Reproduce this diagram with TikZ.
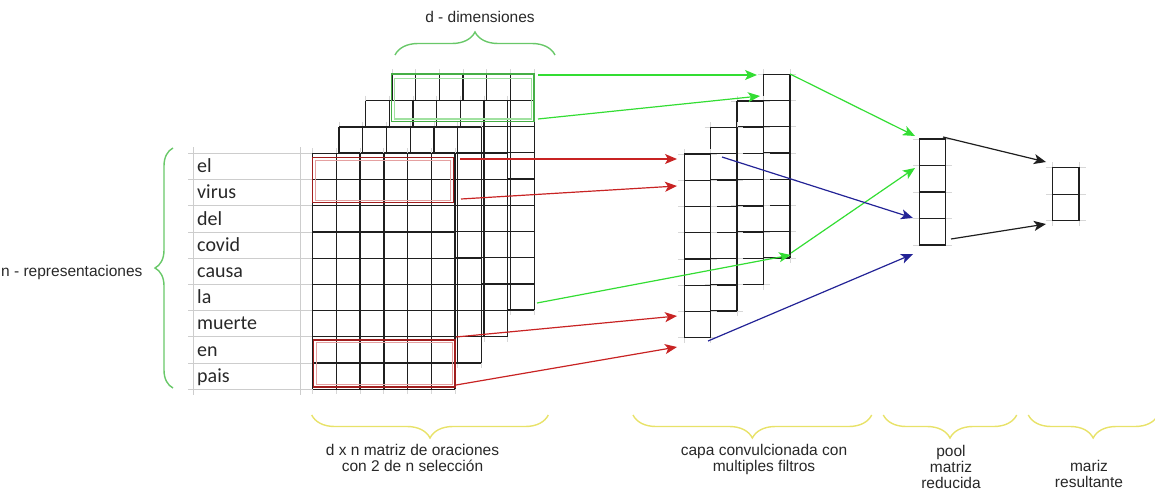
\documentclass[tikz,border=0pt]{standalone}
\usepackage{fontspec}
\setmainfont{Liberation Sans}
\newfontfamily\wordfont{Carlito}
\usetikzlibrary{arrows.meta,decorations.pathreplacing}

\definecolor{txt}{RGB}{40,40,40}
\definecolor{arrgreen}{RGB}{51,221,51}
\definecolor{arrred}{RGB}{200,35,35}
\definecolor{arrblue}{RGB}{35,35,150}
\definecolor{arrblack}{RGB}{30,30,30}
\definecolor{bracegreen}{RGB}{105,200,105}
\definecolor{braceyellow}{RGB}{232,226,105}
\definecolor{boxgreen}{RGB}{70,175,70}
\definecolor{boxgreenlight}{RGB}{160,225,160}
\definecolor{boxred}{RGB}{160,30,30}
\definecolor{boxredlight}{RGB}{228,160,160}
\definecolor{tablegray}{RGB}{205,205,205}
\definecolor{stubgray}{RGB}{215,215,215}

\begin{document}
\begin{tikzpicture}[x=1pt,y=-1pt,
  gridline/.style={line width=1.3pt, black!88},
  stub/.style={line width=0.8pt, stubgray},
  tableline/.style={line width=0.9pt, tablegray},
  word/.style={font=\wordfont\fontsize{20}{24}\selectfont, text=txt, inner sep=0pt},
  label/.style={font=\fontsize{15.5}{16}\selectfont, text=txt, inner sep=0pt, align=center},
  flow/.style={line width=1.2pt, -{Stealth[length=12pt,width=10pt,inset=3pt]}},
  greenflow/.style={flow, arrgreen},
  redflow/.style={flow, arrred},
  blueflow/.style={flow, arrblue},
  blackflow/.style={flow, arrblack},
  gbrace/.style={line width=1.4pt, bracegreen, decorate},
  ybrace/.style={line width=1.4pt, braceyellow, decorate, decoration={brace, amplitude=23pt}}]
\useasboundingbox (0,0) rectangle (1155,495);

% table of words
\foreach \i in {0,...,9}
  \draw[tableline] (188,153.3+\i*26.22) -- (312,153.3+\i*26.22);
\draw[tableline] (193.3,147) -- (193.3,395);
\draw[tableline] (300,147) -- (300,395);
\foreach \w [count=\i from 0] in {el,virus,del,covid,causa,la,muerte,en,pais}
  \node[word, anchor=base west] (w\i) at (197,153.3+\i*26.22+19.3) {\w};

% stacked d x n layers, drawn from back to front
\foreach \k in {3,2,1,0} {
  \pgfmathsetmacro{\L}{312.7+26.4*\k}
  \pgfmathsetmacro{\T}{153.3-26.4*\k}
  \fill[white] (\L,\T) rectangle ++(142.3,236);
  \foreach \j in {0,...,6}
    \draw[stub] (\L+\j*23.72,\T-5) -- ++(0,246);
  \foreach \j in {0,...,6}
    \draw[gridline] (\L+\j*23.72,\T) -- ++(0,236);
  \foreach \i in {0,...,9}
    \draw[gridline] (\L,\T+\i*26.22) -- ++(142.3,0);
}

% selection windows
\draw[line width=1.3pt, boxgreen] (391.7,74) rectangle (534,121.7);
\draw[line width=1.1pt, boxgreenlight] (394.5,78.3) rectangle (531.5,119);
\draw[line width=1.3pt, boxred] (312.7,157.3) rectangle (453.3,202.7);
\draw[line width=1.1pt, boxredlight] (315.5,160.7) rectangle (450.8,200.2);
\draw[line width=1.3pt, boxred] (313.5,340) rectangle (455,387);
\draw[line width=1.1pt, boxredlight] (316.2,342.8) rectangle (452.3,384.3);

% convolution filters, back to front
\foreach \k in {3,2,1,0} {
  \pgfmathsetmacro{\L}{684.3+26.4*\k}
  \pgfmathsetmacro{\T}{154-26.55*\k}
  \foreach \i in {0,...,7}
    \draw[stub] (\L-6,\T+\i*26.24) -- ++(38.4,0);
  \draw[stub] (\L,\T-5) -- ++(0,193.7);
  \draw[stub] (\L+26.4,\T-5) -- ++(0,193.7);
  \draw[gridline] (\L,\T) -- ++(0,183.7);
  \draw[gridline] (\L+26.4,\T) -- ++(0,183.7);
  \foreach \i in {0,...,7}
    \draw[gridline] (\L,\T+\i*26.24) -- ++(26.4,0);
}

% pooled column
\foreach \i in {0,...,4}
  \draw[stub] (913,139+\i*26.5) -- ++(39,0);
\draw[gridline] (919.3,139) rectangle (945.7,245);
\foreach \i in {1,2,3}
  \draw[gridline] (919.3,139+\i*26.5) -- ++(26.4,0);

% resulting column
\foreach \i in {0,1,2}
  \draw[stub] (1046,167.7+\i*26.5) -- ++(40,0);
\draw[stub] (1052.3,162) -- (1052.3,226);
\draw[stub] (1079,162) -- (1079,226);
\draw[gridline] (1052.3,167.7) rectangle (1079,220.7);
\draw[gridline] (1052.3,194.2) -- (1079,194.2);

% connector end points
\coordinate (rs1) at (460,159);   \coordinate (re1) at (677,159);
\coordinate (rs2) at (461,199);   \coordinate (re2) at (677,186);
\coordinate (rs3) at (456,337);   \coordinate (re3) at (677,316);
\coordinate (rs4) at (456,385);   \coordinate (re4) at (677,347);
\coordinate (gs1) at (538,75);    \coordinate (ge1) at (757,75);
\coordinate (gs2) at (538,119);   \coordinate (ge2) at (760,96);
\coordinate (gs3) at (537,303);   \coordinate (ge3) at (791,255);
\coordinate (gs4) at (790,74);    \coordinate (ge4) at (915,136);
\coordinate (gs5) at (791,253);   \coordinate (ge5) at (915,168);
\coordinate (bs1) at (722,157);   \coordinate (be1) at (913,218);
\coordinate (bs2) at (708,341);   \coordinate (be2) at (913,254);
\coordinate (ks1) at (943,137);   \coordinate (ke1) at (1046,162);
\coordinate (ks2) at (951,239);   \coordinate (ke2) at (1046,224);

% connectors
\draw[redflow] (rs1) -- (re1);
\draw[redflow] (rs2) -- (re2);
\draw[redflow] (rs3) -- (re3);
\draw[redflow] (rs4) -- (re4);
\draw[greenflow] (gs1) -- (ge1);
\draw[greenflow] (gs2) -- (ge2);
\draw[greenflow] (gs3) -- (ge3);
\draw[greenflow] (gs4) -- (ge4);
\draw[greenflow] (gs5) -- (ge5);
\draw[blueflow] (bs1) -- (be1);
\draw[blueflow] (bs2) -- (be2);
\draw[blackflow] (ks1) -- (ke1);
\draw[blackflow] (ks2) -- (ke2);

% braces
\draw[gbrace, decoration={brace, amplitude=18pt}] (173,388) -- (173,148);
\draw[gbrace, decoration={brace, amplitude=23pt}] (395,55) -- (555,55);
\draw[ybrace] (548.3,415) -- (311.7,415);
\draw[ybrace] (871.7,415) -- (633,415);
\draw[ybrace] (1016.7,415) -- (883.3,415);
\draw[ybrace] (1158,415) -- (1028.3,415);

% labels
\node[label, anchor=base west] (lrep) at (1,276) {n - representaciones};
\node[label, anchor=base] (ldim) at (480,23) {d - dimensiones};
\node[label, anchor=north] (lmat) at (412.5,444) {d x n matriz de oraciones\\con 2 de n selección};
\node[label, anchor=north] (lconv) at (764,444) {capa convulcionada con\\multiples filtros};
\node[label, anchor=north] (lpool) at (951,445) {pool\\matriz\\reducida};
\node[label, anchor=north] (lres) at (1089,460) {mariz\\resultante};
\end{tikzpicture}
\end{document}
